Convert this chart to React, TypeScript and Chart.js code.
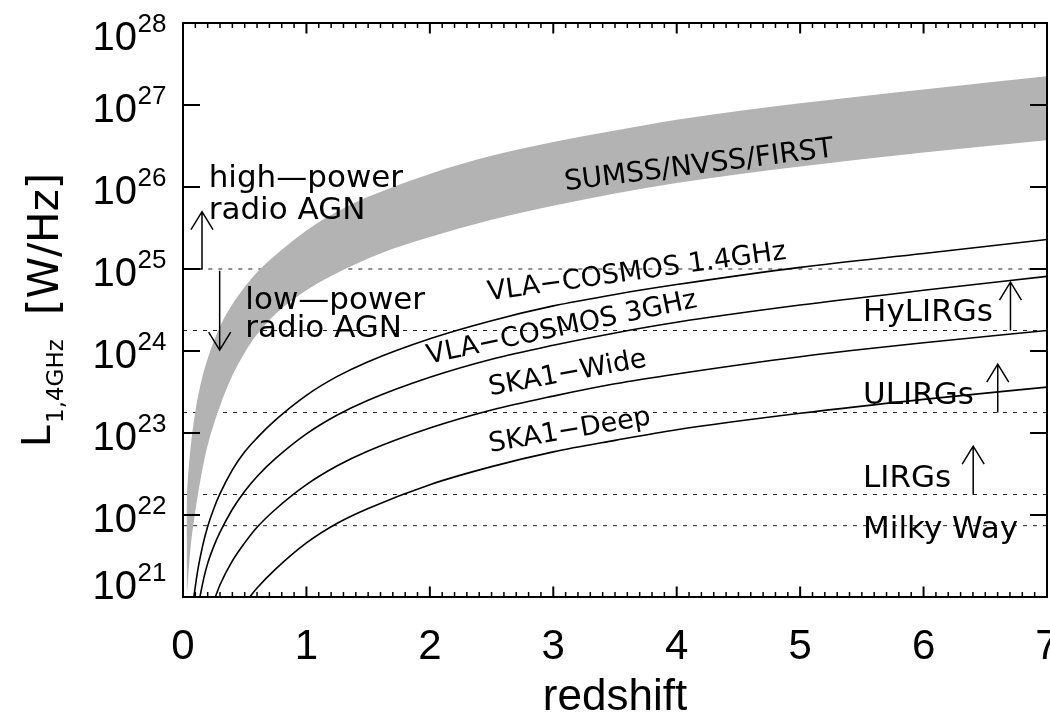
import React, { useEffect, useRef } from 'react';
import { Chart, registerables } from 'chart.js';

Chart.register(...registerables);

// ---------------- data (z = redshift, values = log10 of L_1.4GHz in W/Hz) ----------------
const X_MIN = 0;
const X_MAX = 7;
const Y_MIN_EXP = 21;
const Y_MAX_EXP = 28;
const xTickValues = [0, 1, 2, 3, 4, 5, 6, 7];
const yTickExponents = [21, 22, 23, 24, 25, 26, 27, 28];
const xMinorStep = 0.1;

const bandUpperZ = [0.008, 0.015, 0.025, 0.04, 0.06, 0.1, 0.15, 0.2, 0.3, 0.4, 0.5, 0.6, 0.75, 1.0, 1.25, 1.5, 2.0, 2.5, 3.0, 3.5, 4.0, 5.0, 6.0, 7.0];
const bandUpperLogL = [21.0, 21.57, 22.04, 22.45, 22.8, 23.26, 23.64, 23.91, 24.3, 24.57, 24.78, 24.96, 25.17, 25.47, 25.7, 25.88, 26.16, 26.38, 26.55, 26.69, 26.82, 27.02, 27.19, 27.35];

const bandLowerZ = [0.03, 0.06, 0.1, 0.15, 0.2, 0.3, 0.4, 0.5, 0.6, 0.75, 1.0, 1.3, 1.6, 2.0, 2.5, 3.0, 3.5, 4.0, 5.0, 6.0, 7.0];
const bandLowerLogL = [21.0, 21.58, 22.05, 22.5, 22.85, 23.33, 23.7, 23.98, 24.2, 24.45, 24.74, 24.99, 25.19, 25.39, 25.6, 25.77, 25.92, 26.05, 26.25, 26.42, 26.57];

const vla14Z = [0.088, 0.12, 0.16, 0.2, 0.25, 0.3, 0.4, 0.5, 0.6, 0.75, 1.0, 1.25, 1.5, 2.0, 2.5, 3.0, 3.5, 4.0, 5.0, 6.0, 7.0];
const vla14LogL = [21.0, 21.33, 21.63, 21.86, 22.08, 22.26, 22.55, 22.77, 22.94, 23.16, 23.46, 23.69, 23.87, 24.15, 24.37, 24.55, 24.69, 24.81, 25.02, 25.19, 25.36];

const vla3Z = [0.137, 0.17, 0.2, 0.25, 0.3, 0.4, 0.5, 0.6, 0.75, 1.0, 1.25, 1.5, 2.0, 2.5, 3.0, 3.5, 4.0, 5.0, 6.0, 7.0];
const vla3LogL = [21.0, 21.24, 21.41, 21.62, 21.79, 22.07, 22.29, 22.47, 22.69, 22.99, 23.22, 23.4, 23.68, 23.9, 24.07, 24.22, 24.35, 24.56, 24.74, 24.91];

const skaWideZ = [0.262, 0.3, 0.4, 0.5, 0.6, 0.75, 1.0, 1.25, 1.5, 2.0, 2.5, 3.0, 3.5, 4.0, 5.0, 6.0, 7.0];
const skaWideLogL = [21.0, 21.15, 21.44, 21.66, 21.85, 22.07, 22.37, 22.6, 22.78, 23.06, 23.28, 23.45, 23.6, 23.72, 23.93, 24.1, 24.25];

const skaDeepZ = [0.54, 0.6, 0.75, 1.0, 1.25, 1.5, 2.0, 2.5, 3.0, 3.5, 4.0, 5.0, 6.0, 7.0];
const skaDeepLogL = [21.0, 21.11, 21.34, 21.66, 21.9, 22.08, 22.37, 22.59, 22.77, 22.91, 23.04, 23.24, 23.41, 23.56];

// horizontal reference levels (dashed)
const dashedLevels = [25.0, 24.25, 23.25, 22.25, 21.87];
const dashedStartZ = [0.205, 0, 0, 0, 0];

// annotation texts
const curveLabels = [
  { text: 'SUMSS/NVSS/FIRST', z: 3.098, logL: 25.96, angle: -7.2, size: 28 },
  { text: 'VLA\u2212COSMOS 1.4GHz', z: 2.477, logL: 24.618, angle: -7.95, size: 27 },
  { text: 'VLA\u2212COSMOS 3GHz', z: 1.99, logL: 23.846, angle: -11.9, size: 27 },
  { text: 'SKA1\u2212Wide', z: 2.49, logL: 23.46, angle: -10.5, size: 27 },
  { text: 'SKA1\u2212Deep', z: 2.49, logL: 22.768, angle: -9.8, size: 27 },
];
const textLabels = [
  { text: 'high\u2014power', z: 0.208, logL: 26.0 },
  { text: 'radio AGN', z: 0.208, logL: 25.615 },
  { text: 'low\u2014power', z: 0.505, logL: 24.517 },
  { text: 'radio AGN', z: 0.505, logL: 24.171 },
  { text: 'HyLIRGs', z: 5.51, logL: 24.366 },
  { text: 'ULIRGs', z: 5.51, logL: 23.35 },
  { text: 'LIRGs', z: 5.51, logL: 22.34 },
  { text: 'Milky Way', z: 5.51, logL: 21.724 },
];
const arrows: { z: number; fromLogL: number; toLogL: number; elbowZ?: number }[] = [
  { z: 0.154, fromLogL: 25.0, toLogL: 25.7, elbowZ: 0 },
  { z: 0.297, fromLogL: 24.98, toLogL: 24.01 },
  { z: 6.704, fromLogL: 24.25, toLogL: 24.84 },
  { z: 6.601, fromLogL: 23.25, toLogL: 23.84 },
  { z: 6.402, fromLogL: 22.25, toLogL: 22.84 },
];

const FONT_ANN = '"DejaVu Sans", sans-serif';
const FONT_TICK = '"Liberation Sans", Arial, sans-serif';

const toPoints = (zs: number[], logs: number[]) => zs.map((z, i) => ({ x: z, y: Math.pow(10, logs[i]) }));

const decorPlugin = {
  id: 'decor',
  afterDatasetsDraw(chart: any) {
    const { ctx, scales } = chart;
    const px = (z: number) => scales.x.getPixelForValue(z);
    const py = (lg: number) => scales.y.getPixelForValue(Math.pow(10, lg));
    ctx.save();
    ctx.fillStyle = '#000';
    ctx.textBaseline = 'alphabetic';
    ctx.textAlign = 'left';
    for (const l of curveLabels) {
      ctx.save();
      ctx.translate(px(l.z), py(l.logL));
      ctx.rotate((l.angle * Math.PI) / 180);
      ctx.font = `${l.size}px ${FONT_ANN}`;
      ctx.fillText(l.text, 0, 0);
      ctx.restore();
    }
    ctx.font = `31px ${FONT_ANN}`;
    for (const t of textLabels) ctx.fillText(t.text, px(t.z), py(t.logL));

    ctx.strokeStyle = '#000';
    ctx.lineWidth = 1.5;
    for (const a of arrows) {
      const x = px(a.z);
      const y0 = py(a.fromLogL);
      const y1 = py(a.toLogL);
      ctx.beginPath();
      if (a.elbowZ !== undefined) {
        ctx.moveTo(px(a.elbowZ), y0);
        ctx.lineTo(x, y0);
      } else {
        ctx.moveTo(x, y0);
      }
      ctx.lineTo(x, y1);
      const dir = y1 < y0 ? 1 : -1;
      ctx.moveTo(x - 11, y1 + dir * 18);
      ctx.lineTo(x, y1);
      ctx.lineTo(x + 11, y1 + dir * 18);
      ctx.stroke();
    }
    ctx.restore();
  },
  afterDraw(chart: any) {
    const { ctx, scales, chartArea: ca } = chart;
    const px = (z: number) => scales.x.getPixelForValue(z);
    const py = (e: number) => scales.y.getPixelForValue(Math.pow(10, e));
    ctx.save();
    ctx.strokeStyle = '#000';
    ctx.fillStyle = '#000';
    // frame
    ctx.lineWidth = 2;
    ctx.strokeRect(ca.left, ca.top, ca.right - ca.left, ca.bottom - ca.top);
    // x ticks (major + minor), bottom and top
    const nMinor = Math.round((X_MAX - X_MIN) / xMinorStep);
    for (let i = 0; i <= nMinor; i++) {
      const v = X_MIN + i * xMinorStep;
      const major = xTickValues.some((t) => Math.abs(t - v) < 1e-6);
      const len = major ? 10.5 : 5;
      const x = px(v);
      ctx.lineWidth = major ? 2 : 1.5;
      ctx.beginPath();
      ctx.moveTo(x, ca.bottom);
      ctx.lineTo(x, ca.bottom - len);
      ctx.moveTo(x, ca.top);
      ctx.lineTo(x, ca.top + len);
      ctx.stroke();
    }
    // y ticks left and right
    ctx.lineWidth = 2;
    for (const e of yTickExponents) {
      const y = py(e);
      ctx.beginPath();
      ctx.moveTo(ca.left, y);
      ctx.lineTo(ca.left + 17, y);
      ctx.moveTo(ca.right, y);
      ctx.lineTo(ca.right - 17, y);
      ctx.stroke();
    }
    // y tick labels 10^n
    ctx.textBaseline = 'alphabetic';
    for (const e of yTickExponents) {
      let base = py(e) + 17;
      base = Math.max(base, ca.top + 27.3);
      base = Math.min(base, ca.bottom + 1.6);
      ctx.textAlign = 'right';
      ctx.font = `40px ${FONT_TICK}`;
      ctx.fillText('10', ca.left - 46, base);
      ctx.textAlign = 'left';
      ctx.font = `26px ${FONT_TICK}`;
      ctx.fillText(String(e), ca.left - 45.5, base - 18);
    }
    // x tick labels
    ctx.textAlign = 'center';
    ctx.font = `42px ${FONT_TICK}`;
    for (const t of xTickValues) ctx.fillText(String(t), px(t), ca.bottom + 62);
    // x title
    ctx.font = `44px ${FONT_TICK}`;
    ctx.fillText('redshift', (ca.left + ca.right) / 2, ca.bottom + 113);
    // y title (rotated)
    ctx.save();
    ctx.translate(50, (ca.top + ca.bottom) / 2 + 137);
    ctx.rotate(-Math.PI / 2);
    ctx.textAlign = 'left';
    ctx.font = `39px ${FONT_ANN}`;
    ctx.fillText('L', 0, 0);
    ctx.font = `23px ${FONT_ANN}`;
    ctx.fillText('1,4GHz', 24, 13);
    ctx.font = `42px ${FONT_ANN}`;
    ctx.fillText('[W/Hz]', 132, 8);
    ctx.restore();
    ctx.restore();
  },
};

export default function App() {
  const canvasRef = useRef<HTMLCanvasElement | null>(null);

  useEffect(() => {
    const canvas = canvasRef.current;
    if (!canvas) return;
    const curveStyle = {
      borderColor: '#000',
      borderWidth: 1.6,
      pointRadius: 0,
      fill: false,
      cubicInterpolationMode: 'monotone' as const,
    };
    const datasets: any[] = [
      { label: 'VLA-COSMOS 1.4GHz', data: toPoints(vla14Z, vla14LogL), ...curveStyle },
      { label: 'VLA-COSMOS 3GHz', data: toPoints(vla3Z, vla3LogL), ...curveStyle },
      { label: 'SKA1-Wide', data: toPoints(skaWideZ, skaWideLogL), ...curveStyle },
      { label: 'SKA1-Deep', data: toPoints(skaDeepZ, skaDeepLogL), ...curveStyle },
      {
        label: 'band upper',
        data: toPoints(bandUpperZ, bandUpperLogL),
        borderColor: 'rgba(0,0,0,0)',
        borderWidth: 1,
        backgroundColor: '#b3b3b3',
        pointRadius: 0,
        fill: '+1',
        cubicInterpolationMode: 'monotone',
      },
      {
        label: 'band lower',
        data: toPoints(bandLowerZ, bandLowerLogL),
        borderColor: 'rgba(0,0,0,0)',
        borderWidth: 1,
        pointRadius: 0,
        fill: false,
        cubicInterpolationMode: 'monotone',
      },
      ...dashedLevels.map((lv, i) => ({
        label: 'level ' + lv,
        data: [
          { x: dashedStartZ[i], y: Math.pow(10, lv) },
          { x: X_MAX, y: Math.pow(10, lv) },
        ],
        borderColor: '#222',
        borderWidth: 1,
        borderDash: [4, 6],
        pointRadius: 0,
        fill: false,
      })),
    ];

    const chart = new Chart(canvas, {
      type: 'line',
      data: { datasets },
      options: {
        animation: false,
        responsive: false,
        maintainAspectRatio: false,
        devicePixelRatio: 1,
        layout: { padding: { left: 183, right: 3, top: 23, bottom: 117 } },
        scales: {
          x: { type: 'linear', min: X_MIN, max: X_MAX, display: false },
          y: { type: 'logarithmic', min: Math.pow(10, Y_MIN_EXP), max: Math.pow(10, Y_MAX_EXP), display: false },
        },
        plugins: { legend: { display: false }, tooltip: { enabled: false } },
        elements: { point: { radius: 0 } },
      },
      plugins: [decorPlugin],
    } as any);

    return () => chart.destroy();
  }, []);

  return (
    <div style={{ position: 'fixed', left: 0, top: 0, width: 1050, height: 714, background: '#fff' }}>
      <canvas ref={canvasRef} width={1050} height={714} style={{ display: 'block' }} />
    </div>
  );
}
